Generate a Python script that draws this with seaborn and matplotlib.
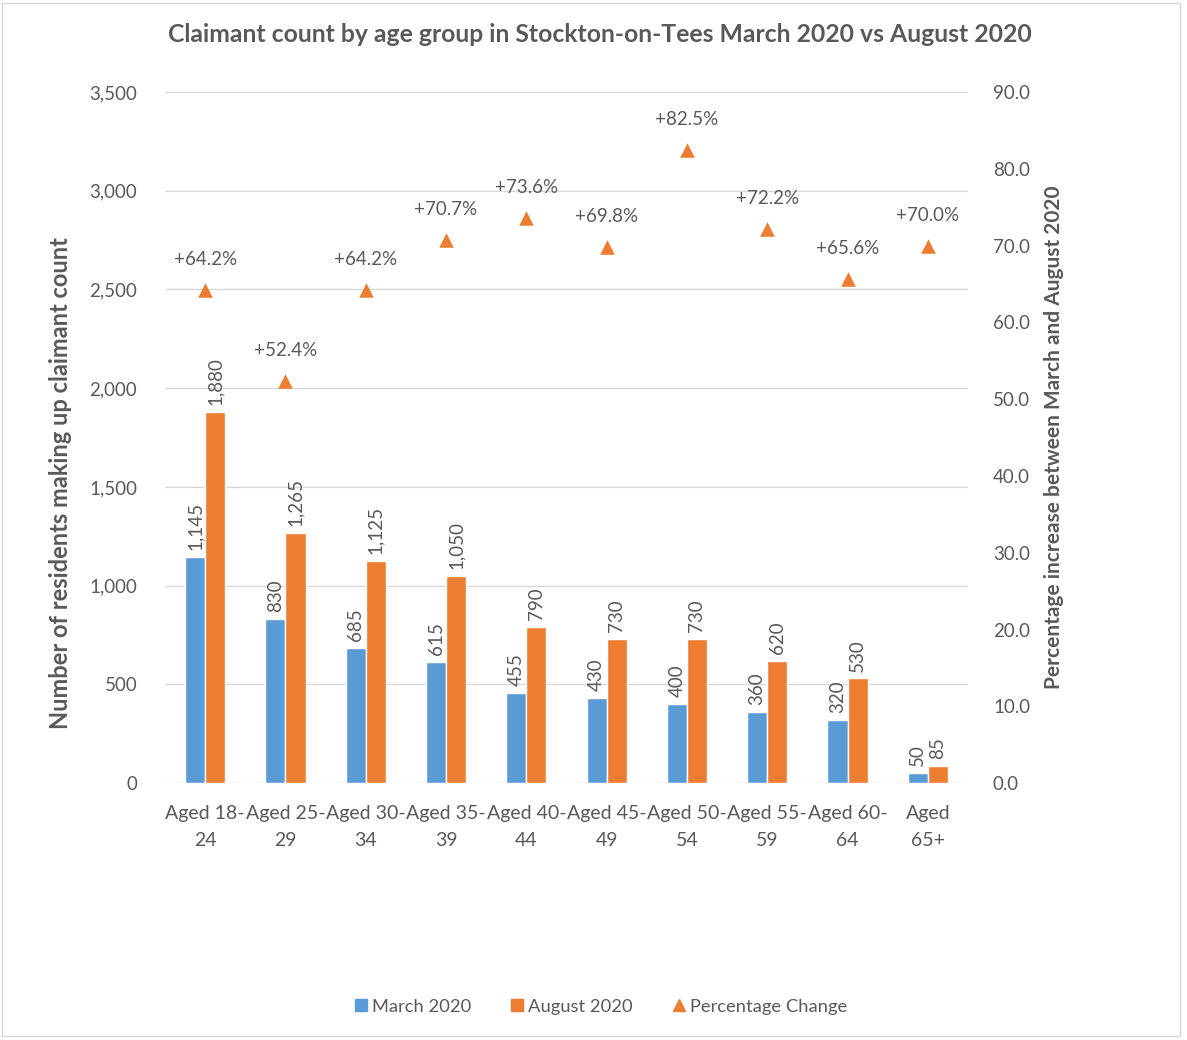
import matplotlib
matplotlib.use("Agg")
import matplotlib.pyplot as plt
from matplotlib.patches import Rectangle
from matplotlib.lines import Line2D
from matplotlib.ticker import FuncFormatter, MultipleLocator
import seaborn as sns
import pandas as pd

age_groups = ["Aged 18-\n24", "Aged 25-\n29", "Aged 30-\n34", "Aged 35-\n39", "Aged 40-\n44",
              "Aged 45-\n49", "Aged 50-\n54", "Aged 55-\n59", "Aged 60-\n64", "Aged\n65+"]
march_2020 = [1145, 830, 685, 615, 455, 430, 400, 360, 320, 50]
august_2020 = [1880, 1265, 1125, 1050, 790, 730, 730, 620, 530, 85]
pct_change = [64.2, 52.4, 64.2, 70.7, 73.6, 69.8, 82.5, 72.2, 65.6, 70.0]

BLUE = "#5B9BD5"
ORANGE = "#ED7D31"
TEXT = "#595959"
GRID = "#D9D9D9"
FS = 13.5

sns.set_style("white")
plt.rcParams["font.family"] = ["Lato", "DejaVu Sans"]

df = pd.DataFrame({
    "group": age_groups * 2,
    "count": march_2020 + august_2020,
    "period": ["March 2020"] * len(age_groups) + ["August 2020"] * len(age_groups),
})

fig = plt.figure(figsize=(11.87, 10.4), dpi=100)
fig.patches.append(Rectangle((0.002, 0.004), 0.992, 0.993, transform=fig.transFigure,
                             fill=False, edgecolor="#D9D9D9", linewidth=1.0))
ax = fig.add_axes([0.139, 0.247, 0.6765, 0.6645])

sns.barplot(data=df, x="group", y="count", hue="period", order=age_groups,
            hue_order=["March 2020", "August 2020"], palette=[BLUE, ORANGE],
            width=0.5, saturation=1, ax=ax, legend=False, errorbar=None)

ax.set_ylim(0, 3500)
ax.yaxis.set_major_locator(MultipleLocator(500))
ax.yaxis.set_major_formatter(FuncFormatter(lambda v, p: f"{int(v):,}"))
ax.set_xlim(-0.5, len(age_groups) - 0.5)
ax.grid(axis="y", color=GRID, linewidth=1.0)
ax.set_axisbelow(True)
for s in ax.spines.values():
    s.set_visible(False)
ax.tick_params(axis="y", length=0, pad=20, labelsize=FS, labelcolor=TEXT)
ax.tick_params(axis="x", length=0, pad=16, labelsize=FS + 0.5, labelcolor=TEXT)
for lbl in ax.get_xticklabels():
    lbl.set_linespacing(1.7)
ax.set_xlabel("")
ax.set_ylabel("Number of residents making up claimant count", fontsize=17,
              fontweight="bold", color=TEXT)
ax.yaxis.set_label_coords(-0.116, 0.434)

for container, vals in zip(ax.containers, [march_2020, august_2020]):
    ax.bar_label(container, labels=[f"{v:,}" for v in vals], rotation=90,
                 padding=5, fontsize=FS, color=TEXT)

ax2 = ax.twinx()
ax2.set_position(ax.get_position())
sns.scatterplot(x=list(range(len(age_groups))), y=pct_change, marker="^", s=110,
                color=ORANGE, edgecolor=ORANGE, linewidth=0, ax=ax2, legend=False, zorder=5)
ax2.set_ylim(0, 90)
ax2.yaxis.set_major_locator(MultipleLocator(10))
ax2.yaxis.set_major_formatter(FuncFormatter(lambda v, p: f"{v:.1f}"))
ax2.tick_params(axis="y", length=0, pad=18, labelsize=FS, labelcolor=TEXT)
for s in ax2.spines.values():
    s.set_visible(False)
ax2.grid(False)
ax2.set_ylabel("Percentage increase between March and August 2020", fontsize=15,
               fontweight="bold", color=TEXT, labelpad=10)
for i, p in enumerate(pct_change):
    ax2.annotate(f"+{p:.1f}%", (i, p), xytext=(0, 22), textcoords="offset points",
                 ha="center", va="center", fontsize=FS, color=TEXT)

fig.suptitle("Claimant count by age group in Stockton-on-Tees March 2020 vs August 2020",
             x=0.505, y=0.978, fontsize=17.8, fontweight="bold", color=TEXT)

handles = [
    Line2D([], [], marker="s", linestyle="none", markersize=8, color=BLUE, label="March 2020"),
    Line2D([], [], marker="s", linestyle="none", markersize=8, color=ORANGE, label="August 2020"),
    Line2D([], [], marker="^", linestyle="none", markersize=9, color=ORANGE, label="Percentage Change"),
]
fig.legend(handles=handles, loc="center", bbox_to_anchor=(0.505, 0.032), ncol=3,
           frameon=False, fontsize=13.2, labelcolor=TEXT, handletextpad=0.1,
           columnspacing=2.0, handlelength=1.0)

fig.savefig("out.png", dpi=100, facecolor="white")
